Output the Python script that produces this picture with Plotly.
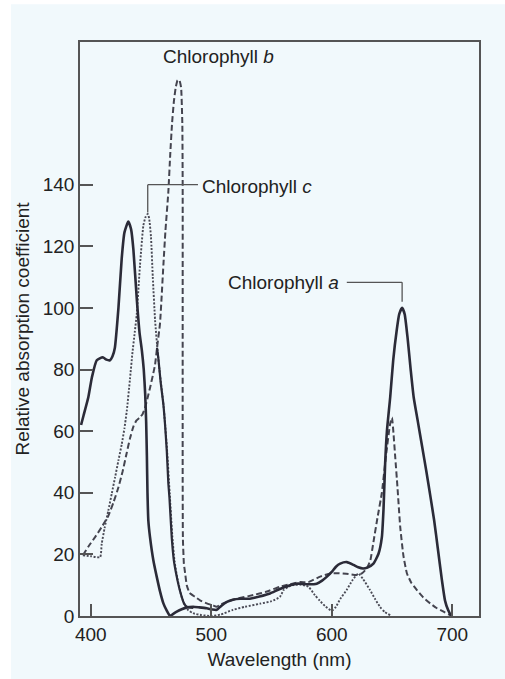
import plotly.graph_objects as go

# ---------------- data ----------------
wl_a = [392, 394, 398, 401, 405, 410, 413, 416, 418, 420, 423, 425.7, 428, 431.2, 433.5, 435.4,
        438.2, 440.5, 442.5, 444, 445.2, 446, 446.6, 447.1, 447.8, 449.2, 452, 454.8, 457.5,
        460.3, 463, 465.8, 468.5, 471.4, 475.5, 479.7, 485, 490, 496.3, 501, 504.6, 508, 513,
        518, 524, 532, 540, 548.8, 556, 565.4, 572, 580.6, 587.5, 592, 595.8, 600, 603.5, 607,
        612.5, 618, 622, 626, 630, 634.6, 638.8, 641.6, 643, 644.3, 645.8, 648.5, 651, 654,
        656, 658.4, 660.5, 663, 665.5, 668, 671.5, 675, 678.5, 682, 685, 688, 691.4, 694,
        696.5, 698.5, 700]
abs_a = [62, 65, 71, 77.5, 83, 84, 83.2, 83, 84.2, 87, 100, 116, 124.5, 128, 125.5, 119,
         103, 92, 86, 80, 72, 63, 52, 40, 31, 25.6, 18, 12.7, 8,
         4.1, 1.8, 0, 0.7, 1.4, 2.2, 2.8, 3, 2.8, 2.5, 2.1, 2.0, 3.2, 4.6,
         5.3, 5.6, 5.6, 6.3, 7.3, 8.6, 10, 10.5, 10.3, 10.5, 11.5, 12.7, 14.3, 16, 17,
         17.5, 16.6, 15.8, 15.4, 15.8, 17, 20.2, 25.6, 35, 49.3, 60, 71, 83, 93,
         98, 100, 98, 90, 80, 71, 63, 55, 47, 38.5, 31, 22, 11.7, 5,
         2, 0.5, 0]

# second solid curve falling beside the Chl c blue band
wl_s = [455, 456.1, 458, 460.3, 463.1, 464.4, 465.3, 467.2, 469, 471.4, 473.5, 475.5,
        477.5, 479.7, 485.2]
abs_s = [87, 83.7, 76, 68.6, 53.6, 43, 38.5, 25.6, 18, 12.7, 9, 6.2, 4, 3.0, 2.6]

wl_b = [393.5, 398, 403.6, 409, 414.6, 419, 423, 426.5, 429.9, 432.5, 435.4, 438, 440.9,
        443, 445, 447, 449.2, 451.5, 453.4, 455, 457.5, 460.3, 462, 464.4, 466, 467.5, 469,
        470.5, 472, 473.5, 475, 476, 476.3, 476.3, 476.3, 476.5, 477.3, 478.3, 479.7, 482,
        486.6, 491, 496.3, 501, 504.6, 508, 513, 520, 535, 545, 557, 565, 573.8, 580.6,
        590.4, 598.7, 604, 612, 620.6, 625, 629, 632, 634.6, 638, 641.6, 645, 648.5, 650,
        651.3, 652.6, 654.5, 656.8, 659.5, 662.4, 666, 670.7, 676, 681.7, 687, 692.8, 697, 700]
abs_b = [19.7, 22.5, 25.6, 28.8, 32.5, 37, 41.8, 47, 53, 57.5, 61.5, 63.5, 64.5,
         65.5, 67.5, 70.5, 74, 78, 81.6, 87, 95, 113.9, 125, 137.6, 150, 160, 167,
         171.5, 173.8, 174, 171.5, 160, 140, 90, 45, 25, 17, 14, 10, 7.5,
         6.2, 5, 4.1, 3.5, 3.0, 3.8, 4.6, 5.5, 6.8, 7.8, 9.5, 10.3, 11, 11,
         12.8, 13.8, 13.9, 13.7, 13.3, 13.8, 15.4, 18, 24, 32, 40, 52, 62.5, 64.4,
         59, 52, 42, 29, 19.5, 13.8, 10.8, 8.4, 6, 4.1, 2.6, 1.4, 0.5, 0]

wl_c = [393.5, 400, 407.8, 409.1, 411.5, 414.6, 417.5, 420.2, 423, 425.7, 428, 429.9, 432.6,
        434.5, 436.5, 438.2, 440.9, 443.7, 445.5, 447.3, 448.5, 450, 451.5, 453.4, 455.5, 457,
        460.5, 463.5, 465.5, 467.7, 469.5, 472, 476, 480, 485, 492, 500, 508, 518, 528, 540.5,
        550, 557, 560, 564, 568.2, 574, 580.6, 586, 590, 595, 600, 603.5, 607, 612.5, 617, 622,
        626, 631.8, 636, 640, 644, 648.5]
abs_c = [19.7, 19.4, 19.1, 23.4, 28.5, 34.2, 39.8, 45, 50.5, 55.7, 61, 66.5, 77,
         85, 92, 98, 113.9, 126.8, 129.5, 130.5, 129, 123, 110, 96, 86, 80,
         68, 53, 40, 26, 18, 12, 5.5, 2.2, 0.9, 0.3, 0, 0.5, 2, 3, 4,
         4.8, 6.2, 8.4, 9.5, 10, 10.2, 9.5, 6.8, 5, 3, 1.7, 3, 5.5, 8.5, 11.5, 13.8,
         12, 8.4, 5.5, 3, 1.3, 0.3]

x_ticks = [400, 500, 600, 700]
y_ticks = [0, 20, 40, 60, 80, 100, 120, 140]

# ---------------- figure ----------------
BG = "#f1f9fc"
AX = "#555555"
TXT = "#222222"
FONT = "Liberation Sans, Arial, sans-serif"

fig = go.Figure()
fig.add_trace(go.Scatter(x=wl_b, y=abs_b, mode="lines", name="Chlorophyll b",
                         line=dict(color="#44444f", width=2, dash="6px,3px",
                                   shape="spline", smoothing=0.4)))
fig.add_trace(go.Scatter(x=wl_c, y=abs_c, mode="lines", name="Chlorophyll c",
                         line=dict(color="#4a4a55", width=1.9, dash="2px,1.6px",
                                   shape="spline", smoothing=0.5)))
fig.add_trace(go.Scatter(x=wl_s, y=abs_s, mode="lines", name="Chlorophyll (second solid)",
                         line=dict(color="#2b2b38", width=2.2, shape="spline", smoothing=0.5)))
fig.add_trace(go.Scatter(x=wl_a, y=abs_a, mode="lines", name="Chlorophyll a",
                         line=dict(color="#2b2b38", width=2.6, shape="spline", smoothing=0.5)))

# leader lines derived from the data peaks
ic = abs_c.index(max(abs_c))
c_x, c_y = wl_c[ic], abs_c[ic]
ia = max(range(len(abs_a)), key=lambda i: abs_a[i] if wl_a[i] > 600 else -1)
a_x, a_y = wl_a[ia], abs_a[ia]

lead = dict(color="#555555", width=1.3)
shapes = [
    dict(type="line", xref="x", yref="y", x0=c_x, y0=c_y + 0.5, x1=c_x, y1=140, line=lead),
    dict(type="line", xref="x", yref="y", x0=c_x, y0=140, x1=489, y1=140, line=lead),
    dict(type="line", xref="x", yref="y", x0=a_x, y0=a_y + 2, x1=a_x, y1=108.3, line=lead),
    dict(type="line", xref="x", yref="y", x0=a_x, y0=108.3, x1=612.5, y1=108.3, line=lead),
    # white border of the scanned page
    dict(type="rect", xref="paper", yref="paper", x0=-0.25, x1=-69 / 399, y0=-0.2, y1=1.2,
         fillcolor="white", line=dict(width=0), layer="below"),
    dict(type="rect", xref="paper", yref="paper", x0=-0.25, x1=1.2, y0=615 / 577, y1=1.2,
         fillcolor="white", line=dict(width=0), layer="below"),
]

annotations = [
    dict(x=506, y=181.5, xref="x", yref="y", text="Chlorophyll <i>b</i>", showarrow=False,
         xanchor="center", yanchor="middle", font=dict(size=19, color=TXT, family=FONT)),
    dict(x=491, y=139.5, xref="x", yref="y", text="Chlorophyll <i>c</i>", showarrow=False,
         xanchor="left", yanchor="middle", font=dict(size=19, color=TXT, family=FONT)),
    dict(x=608, y=108.3, xref="x", yref="y", text="Chlorophyll <i>a</i>", showarrow=False,
         xanchor="right", yanchor="middle", font=dict(size=19, color=TXT, family=FONT)),
]

axis_common = dict(showgrid=False, zeroline=False, showline=True, linecolor=AX, linewidth=1.5,
                   mirror=True, ticks="inside", tickcolor=AX, tickwidth=1.5,
                   tickfont=dict(size=19, color=TXT, family=FONT))

fig.update_layout(
    width=505, height=679,
    margin=dict(l=80, r=26, t=42, b=60, pad=0),
    paper_bgcolor=BG, plot_bgcolor=BG,
    showlegend=False,
    font=dict(family=FONT, color=TXT, size=19),
    shapes=shapes, annotations=annotations,
    xaxis=dict(range=[391.1, 722.2], tickvals=x_ticks, ticktext=[str(v) for v in x_ticks],
               ticklen=12, title=dict(text="Wavelength (nm)", font=dict(size=19, color=TXT),
                                      standoff=9), **axis_common),
    yaxis=dict(range=[0, 186.3], tickvals=y_ticks, ticktext=[str(v) for v in y_ticks],
               ticklen=13, title=dict(text="Relative absorption coefficient",
                                      font=dict(size=19, color=TXT), standoff=8),
               **axis_common),
)

fig.write_html("out.html")
